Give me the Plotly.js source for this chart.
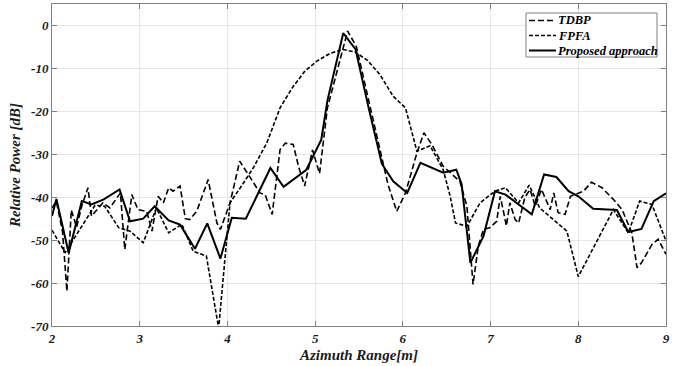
<!DOCTYPE html>
<html>
<head>
<meta charset="utf-8">
<script src="https://cdn.plot.ly/plotly-3.0.1.min.js"></script>
<style>html,body{margin:0;padding:0;background:#fff;}#chart{width:686px;height:366px;}</style>
</head>
<body>
<div id="chart"></div>
<script>
// Series names
const seriesNames = ["TDBP", "FPFA", "Proposed approach"];

// TDBP (azimuth [m], relative power [dB])
const tdbpX = [2.00,2.05,2.12,2.17,2.22,2.28,2.34,2.41,2.45,2.58,2.66,2.78,2.83,2.91,2.98,3.08,3.14,3.21,3.27,3.33,3.38,3.46,3.52,3.57,3.65,3.78,3.88,3.92,4.03,4.14,4.30,4.37,4.43,4.51,4.60,4.66,4.75,4.81,4.88,4.97,5.05,5.14,5.37,5.47,5.63,5.83,5.93,6.03,6.16,6.24,6.33,6.46,6.65,6.73,6.80,6.86,6.92,6.99,7.07,7.11,7.15,7.18,7.22,7.28,7.32,7.39,7.45,7.51,7.58,7.64,7.68,7.72,7.77,7.85,7.91,8.06,8.15,8.27,8.40,8.50,8.61,8.67,8.72,8.84,8.91,9.00];
const tdbpY = [-42.5,-41,-48,-61.9,-43,-47,-42,-37.8,-44.4,-41.3,-42.5,-39,-52.2,-39.4,-42.9,-43.3,-47.9,-39.8,-41.3,-37.8,-38.6,-37.4,-45,-45.2,-43.3,-35.9,-46,-47.5,-41.3,-31.6,-36.7,-39,-39.4,-44,-28.9,-27.4,-27.7,-32.8,-37.4,-29,-34.5,-19.2,-1.3,-4.9,-19.2,-37,-43.3,-39,-29.7,-25,-27.7,-32.8,-36.3,-42.1,-60.3,-51.4,-47.5,-47.1,-45.6,-39.8,-43.6,-46.7,-41.3,-45.2,-46,-40.1,-38.2,-42.1,-38.2,-40.9,-42.9,-39,-43.6,-44,-39.8,-38.6,-36.5,-37.8,-40.5,-42.9,-48.3,-56.4,-55.3,-51,-49.8,-53.3];

// FPFA
const fpfaX = [2.00,2.15,2.49,2.60,2.76,2.89,3.04,3.19,3.33,3.48,3.61,3.76,3.90,4.03,4.16,4.30,4.45,4.60,4.74,4.88,5.02,5.17,5.32,5.46,5.60,5.74,5.89,6.03,6.16,6.31,6.46,6.54,6.60,6.73,6.88,7.05,7.17,7.32,7.44,7.56,7.87,8.00,8.40,8.57,8.70,8.84,9.00];
const fpfaY = [-47.7,-52.9,-41.9,-42.1,-47.1,-47.9,-50.6,-42.5,-48.3,-46.3,-52.6,-53.7,-70.5,-41.3,-37.4,-33,-27.3,-19.2,-14.5,-10.7,-8.3,-6.5,-5.6,-6.2,-8.2,-11.5,-16.5,-19.2,-29.3,-28,-33.6,-39.8,-46,-46.8,-41.3,-38.6,-37.8,-41.3,-37.2,-42.5,-47.9,-58.5,-42.9,-48.3,-40.9,-41.7,-50.2];

// Proposed approach
const propX = [2.00,2.05,2.19,2.34,2.45,2.59,2.77,2.89,3.04,3.17,3.33,3.46,3.63,3.77,3.92,4.05,4.21,4.49,4.64,4.90,5.07,5.14,5.32,5.46,5.61,5.76,5.89,6.05,6.20,6.46,6.61,6.67,6.77,6.92,7.05,7.17,7.47,7.61,7.75,7.89,8.00,8.17,8.44,8.57,8.72,8.86,9.00];
const propY = [-44.4,-40.4,-53,-40.9,-41.7,-40.5,-38.2,-45.6,-45,-42.1,-45.4,-46.4,-52,-46.1,-54.3,-44.8,-45,-33.2,-37.6,-33.6,-26.6,-17.5,-1.8,-5.5,-19.2,-32.2,-36.3,-39,-32,-34.3,-33.6,-37,-55.3,-49,-38.6,-39.4,-44,-34.7,-35.3,-38.6,-39.8,-42.7,-43,-48.1,-47.4,-40.9,-39.1];

// Axis ticks
const xTicks = [2,3,4,5,6,7,8,9];
const yTicks = [-70,-60,-50,-40,-30,-20,-10,0];

const serif = "Liberation Serif";
const tickFont = {family: serif, size: 13, color: '#1a1a1a', weight: 'bold', style: 'italic'};
const titleFont = {family: serif, size: 15, color: '#1a1a1a', weight: 'bold', style: 'italic'};

const dashes = ['6px,3px', '4px,2px', 'solid'];
const widths = [1.6, 1.6, 2];

const traces = [
  {x: tdbpX, y: tdbpY, name: seriesNames[0], mode: 'lines', type: 'scatter',
   line: {color: '#000', width: widths[0], dash: dashes[0]}},
  {x: fpfaX, y: fpfaY, name: seriesNames[1], mode: 'lines', type: 'scatter',
   line: {color: '#000', width: widths[1], dash: dashes[1]}},
  {x: propX, y: propY, name: seriesNames[2], mode: 'lines', type: 'scatter',
   line: {color: '#000', width: widths[2], dash: dashes[2]}}
];

const W = 686, H = 366, M = {l: 52, r: 20, t: 4, b: 40};
const PW = W - M.l - M.r, PH = H - M.t - M.b;
const pxX = p => (p - M.l) / PW;
const pxY = p => 1 - (p - M.t) / PH;

// Compact boxed legend (drawn in paper coordinates)
const shapes = [{
  type: 'rect', xref: 'paper', yref: 'paper',
  x0: pxX(526), x1: pxX(657), y0: pxY(57), y1: pxY(13),
  fillcolor: '#fff', line: {color: '#808080', width: 1}, layer: 'above'
}];
const annotations = [];
seriesNames.forEach((nm, i) => {
  const yc = 20.5 + i * 15;
  shapes.push({type: 'line', xref: 'paper', yref: 'paper',
    x0: pxX(529), x1: pxX(556), y0: pxY(yc), y1: pxY(yc),
    line: {color: '#000', width: widths[i], dash: dashes[i]}, layer: 'above'});
  annotations.push({xref: 'paper', yref: 'paper', x: pxX(556), y: pxY(yc),
    xanchor: 'left', yanchor: 'middle', showarrow: false, text: nm,
    font: {family: serif, size: 12.5, color: '#000', weight: 'bold', style: 'italic'}});
});

const axisCommon = {
  showgrid: true, gridcolor: '#e6e6e6', gridwidth: 1,
  showline: true, linecolor: '#808080', linewidth: 1, mirror: 'ticks',
  ticks: 'inside', ticklen: 5, tickcolor: '#808080',
  zeroline: false, tickfont: tickFont
};

const layout = {
  width: W, height: H,
  margin: M,
  paper_bgcolor: '#fff', plot_bgcolor: '#fff',
  showlegend: false,
  xaxis: Object.assign({}, axisCommon, {
    range: [2, 9], tickvals: xTicks, ticktext: xTicks.map(String),
    title: {text: 'Azimuth Range[m]', font: titleFont, standoff: 4}
  }),
  yaxis: Object.assign({}, axisCommon, {
    range: [-70, 5], tickvals: yTicks, ticktext: yTicks.map(String),
    title: {text: 'Relative Power [dB]', font: titleFont, standoff: 6}
  }),
  shapes: shapes,
  annotations: annotations
};

Plotly.newPlot('chart', traces, layout, {staticPlot: true, displayModeBar: false});
</script>
</body>
</html>
